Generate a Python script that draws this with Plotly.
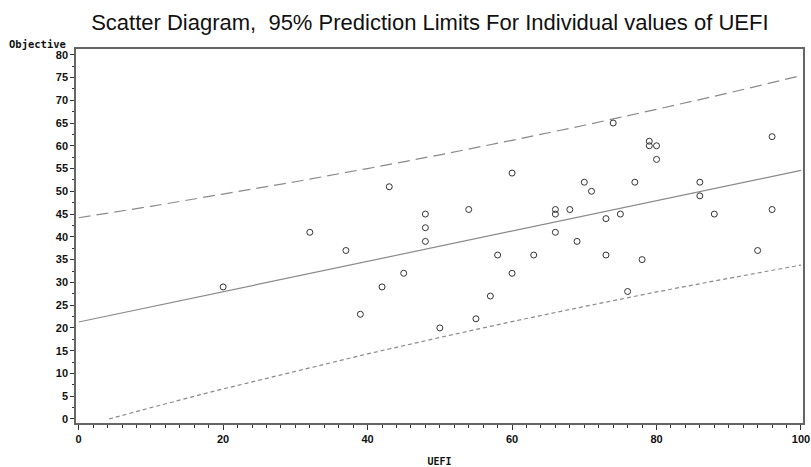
import plotly.graph_objects as go

# Observed data (UEFI, Objective)
uefi = [20, 32, 37, 39, 42, 43, 45, 48, 48, 48, 50, 54, 55, 57, 58, 60, 60, 63,
        66, 66, 66, 68, 69, 70, 71, 73, 73, 74, 75, 76, 77, 78, 79, 79, 80, 80,
        86, 86, 88, 94, 96, 96]
objective = [29, 41, 37, 23, 29, 51, 32, 45, 42, 39, 20, 46, 22, 27, 36, 54, 32, 36,
             46, 45, 41, 46, 39, 52, 50, 44, 36, 65, 45, 28, 52, 35, 61, 60, 60, 57,
             52, 49, 45, 37, 62, 46]

# Fitted line and 95% prediction limits
fit_x = [0, 100]
fit_y = [21.3, 54.6]

upper_x = [0, 10, 20, 30, 40, 50, 60, 70, 80, 90, 100]
upper_y = [44.2, 46.7, 49.4, 52.1, 55.0, 58.0, 61.2, 64.5, 68.0, 71.6, 75.4]

lower_x = [4.2, 10, 20, 30, 40, 50, 60, 70, 80, 90, 100]
lower_y = [0.0, 2.5, 6.6, 10.5, 14.3, 17.9, 21.4, 24.7, 27.9, 30.9, 33.8]

x_ticks = [0, 20, 40, 60, 80, 100]
y_ticks = list(range(0, 81, 5))

line_col = "#8a8a8a"

fig = go.Figure()
fig.add_trace(go.Scatter(x=upper_x, y=upper_y, mode="lines",
                         line=dict(color=line_col, width=1.2, dash="12px,6px"),
                         hoverinfo="skip", showlegend=False))
fig.add_trace(go.Scatter(x=lower_x, y=lower_y, mode="lines",
                         line=dict(color=line_col, width=1.2, dash="4px,3px"),
                         hoverinfo="skip", showlegend=False))
fig.add_trace(go.Scatter(x=fit_x, y=fit_y, mode="lines",
                         line=dict(color=line_col, width=1.2),
                         hoverinfo="skip", showlegend=False))
fig.add_trace(go.Scatter(x=uefi, y=objective, mode="markers",
                         marker=dict(symbol="circle-open", size=6,
                                     color="#333333", line=dict(width=1)),
                         showlegend=False))

tickfont = dict(family="Liberation Sans, Arial, sans-serif", size=11,
                color="#111111", weight="bold")

fig.update_layout(
    width=811, height=467,
    margin=dict(l=76, r=8, t=49, b=44, autoexpand=False),
    paper_bgcolor="white", plot_bgcolor="white",
    title=dict(text="Scatter Diagram,  95% Prediction Limits For Individual values of UEFI",
               x=0.530, xref="container", xanchor="center",
               y=1 - 22 / 467, yref="container", yanchor="middle",
               font=dict(family="Liberation Sans, Arial, sans-serif", size=22,
                         color="#111111")),
    xaxis=dict(range=[-0.37, 100.28], tickvals=x_ticks, ticks="outside",
               automargin=False,
               ticklen=5, tickwidth=1, tickcolor="#333",
               minor=dict(dtick=2, ticks="outside", ticklen=3, tickcolor="#333",
                          tickwidth=1, showgrid=False),
               showgrid=False, zeroline=False,
               showline=True, linecolor="#666", linewidth=1.5, mirror=True,
               tickfont=tickfont,
               title=dict(text="UEFI", standoff=14,
                          font=dict(family="DejaVu Sans Mono, monospace", size=10,
                                    color="#111111", weight="bold"))),
    yaxis=dict(range=[-0.88, 81.25], tickvals=y_ticks, ticks="outside",
               automargin=False,
               ticklen=4, tickwidth=1, tickcolor="#333",
               minor=dict(dtick=2.5, ticks="outside", ticklen=2, tickcolor="#333",
                          tickwidth=1, showgrid=False),
               showgrid=False, zeroline=False,
               showline=True, linecolor="#666", linewidth=1.5, mirror=True,
               tickfont=tickfont),
    annotations=[dict(text="Objective", xref="paper", yref="paper",
                      x=0, y=1, xanchor="right", yanchor="middle",
                      xshift=-8, yshift=5, showarrow=False,
                      font=dict(family="DejaVu Sans Mono, monospace", size=10.5,
                                color="#111111", weight="bold"))],
)

fig.write_html("out.html",
               config={"displayModeBar": False},
               post_script="document.body.style.margin='0';"
                           "document.body.style.overflow='hidden';")
